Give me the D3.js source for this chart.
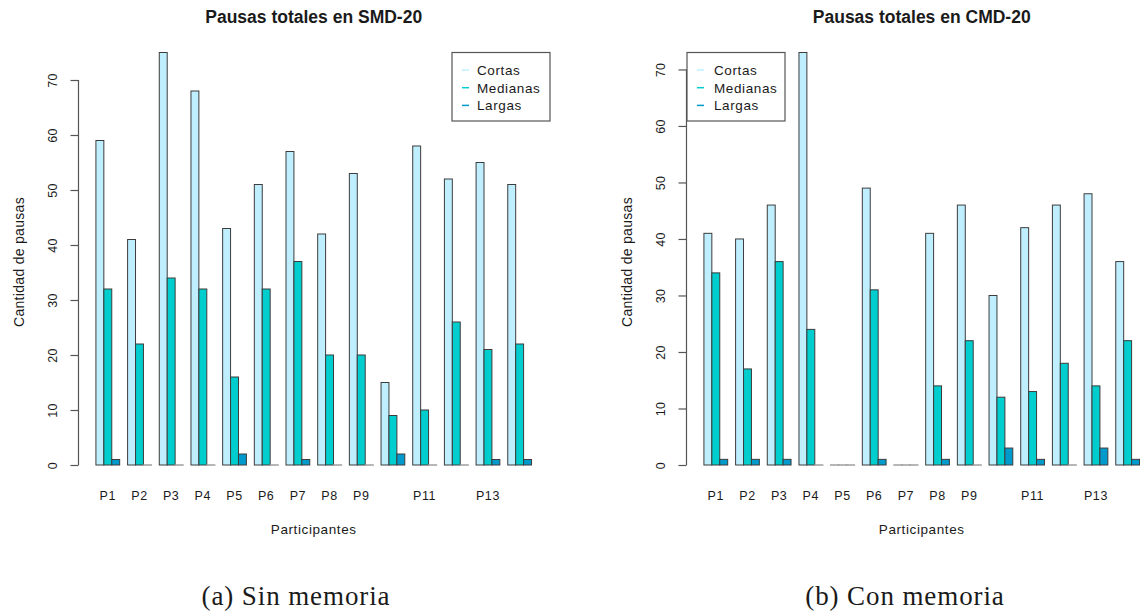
<!DOCTYPE html>
<html>
<head>
<meta charset="utf-8">
<script src="https://cdn.jsdelivr.net/npm/d3@7"></script>
<style>
  html, body { margin: 0; padding: 0; background: #fff; }
  svg { display: block; }
  text { font-family: "Liberation Sans", Arial, Helvetica, sans-serif; fill: #1a1a1a; }
</style>
</head>
<body>
<svg id="chart" width="1140" height="614"></svg>
<script>
// ---- data ----
const participants = ["P1","P2","P3","P4","P5","P6","P7","P8","P9","P10","P11","P12","P13","P14"];
const tickLabels   = ["P1","P2","P3","P4","P5","P6","P7","P8","P9","","P11","","P13",""];
const seriesNames  = ["Cortas","Medianas","Largas"];
const seriesColors = ["#BFEFFF","#00CDCD","#009ACD"];
const yTicks = [0,10,20,30,40,50,60,70];

// SMD-20 (sin memoria)
const smdCortas   = [59,41,75,68,43,51,57,42,53,15,58,52,55,51];
const smdMedianas = [32,22,34,32,16,32,37,20,20, 9,10,26,21,22];
const smdLargas   = [ 1, 0, 0, 0, 2, 0, 1, 0, 0, 2, 0, 0, 1, 1];

// CMD-20 (con memoria)
const cmdCortas   = [41,40,46,73, 0,49, 0,41,46,30,42,46,48,36];
const cmdMedianas = [34,17,36,24, 0,31, 0,14,22,12,13,18,14,22];
const cmdLargas   = [ 1, 1, 1, 0, 0, 1, 0, 1, 0, 3, 1, 0, 3, 1];

const svg = d3.select("#chart");

function drawPanel(opts) {
  const { series, title, caption, unit0, legendLeft, legendTextOff, captionX } = opts;
  const bw = 7.92;
  const nUnits = participants.length * 4; // 3 bars + 1 space each
  const x = d3.scaleLinear().domain([0, 1]).range([unit0, unit0 + bw]);
  const plotL = x(-1.2), plotR = x(nUnits + 2.2);
  const maxV = d3.max(series.flat());
  const y = d3.scaleLinear().domain([0, maxV]).range([465, 52.5]);
  const g = svg.append("g");

  // bars
  const rows = [];
  participants.forEach((p, i) => {
    series.forEach((s, j) => rows.push({ i, j, v: s[i] }));
  });
  g.selectAll("rect.bar").data(rows).enter().append("rect")
    .attr("class", "bar")
    .attr("x", d => x(1 + 4 * d.i + d.j))
    .attr("width", d => x(2 + 4 * d.i + d.j) - x(1 + 4 * d.i + d.j))
    .attr("y", d => y(d.v))
    .attr("height", d => Math.max(y(0) - y(d.v), 0.01))
    .attr("fill", d => seriesColors[d.j])
    .attr("stroke", d => d.v === 0 ? "#999" : "#3c3c3c")
    .attr("stroke-width", d => d.v === 0 ? 1.4 : 1);

  // y axis (R style)
  const yAxis = d3.axisLeft(y).tickValues(yTicks).tickSize(8).tickSizeOuter(0).tickPadding(0);
  const ax = g.append("g").attr("transform", `translate(${plotL},0)`).call(yAxis);
  ax.select(".domain").remove();
  ax.selectAll(".tick line").attr("stroke", "#555").attr("stroke-width", 1.2);
  ax.selectAll(".tick text")
    .attr("x", 0).attr("y", 0).attr("dy", null)
    .attr("transform", "translate(-21.5,0) rotate(-90)")
    .attr("text-anchor", "middle")
    .style("font-size", "12.5px").style("letter-spacing", "0.4px").attr("fill", "#1a1a1a");
  ax.append("line")
    .attr("x1", 0).attr("x2", 0)
    .attr("y1", y(yTicks[0])).attr("y2", y(yTicks[yTicks.length - 1]))
    .attr("stroke", "#555").attr("stroke-width", 1.2);

  // x tick labels
  g.selectAll("text.xl").data(tickLabels).enter().append("text")
    .attr("class", "xl")
    .attr("x", (d, i) => x(2.5 + 4 * i))
    .attr("y", 500)
    .attr("text-anchor", "middle")
    .style("font-size", "12.5px").style("letter-spacing", "0.6px")
    .text(d => d);

  // axis titles
  const cx = (plotL + plotR) / 2;
  g.append("text").attr("x", cx).attr("y", 534).attr("text-anchor", "middle")
    .style("font-size", "13.5px").style("letter-spacing", "0.6px").text("Participantes");
  g.append("text").attr("transform", `translate(${plotL - 54},262) rotate(-90)`)
    .attr("text-anchor", "middle")
    .style("font-size", "14px").style("letter-spacing", "0.3px").text("Cantidad de pausas");

  // title
  g.append("text").attr("x", cx).attr("y", 23).attr("text-anchor", "middle")
    .style("font-size", "17.5px").style("font-weight", "bold").text(title);

  // legend
  const lg = g.append("g").attr("transform", `translate(${legendLeft},52.5)`);
  lg.append("rect").attr("x", 0).attr("y", 0).attr("width", 98).attr("height", 68.5)
    .attr("fill", "#fff").attr("stroke", "#555").attr("stroke-width", 1.2);
  seriesNames.forEach((name, k) => {
    const yy = 17.5 + k * 17.7;
    lg.append("line").attr("x1", 10).attr("x2", 17).attr("y1", yy).attr("y2", yy)
      .attr("stroke", seriesColors[k]).attr("stroke-width", 1.5);
    lg.append("text").attr("x", legendTextOff).attr("y", yy + 4.8)
      .style("font-size", "13.5px").style("letter-spacing", "0.6px").text(name);
  });

  // caption
  svg.append("text").attr("x", captionX).attr("y", 605).attr("text-anchor", "middle")
    .style("font-family", "'Liberation Serif', 'DejaVu Serif', serif")
    .style("font-size", "27px").style("letter-spacing", "0.9px").attr("fill", "#111")
    .text(caption);
}

drawPanel({
  series: [smdCortas, smdMedianas, smdLargas],
  title: "Pausas totales en SMD-20",
  caption: "(a) Sin memoria",
  unit0: 88, legendLeft: 452, legendTextOff: 25, captionX: 296
});
drawPanel({
  series: [cmdCortas, cmdMedianas, cmdLargas],
  title: "Pausas totales en CMD-20",
  caption: "(b) Con memoria",
  unit0: 696, legendLeft: 687, legendTextOff: 27, captionX: 905
});
</script>
</body>
</html>
